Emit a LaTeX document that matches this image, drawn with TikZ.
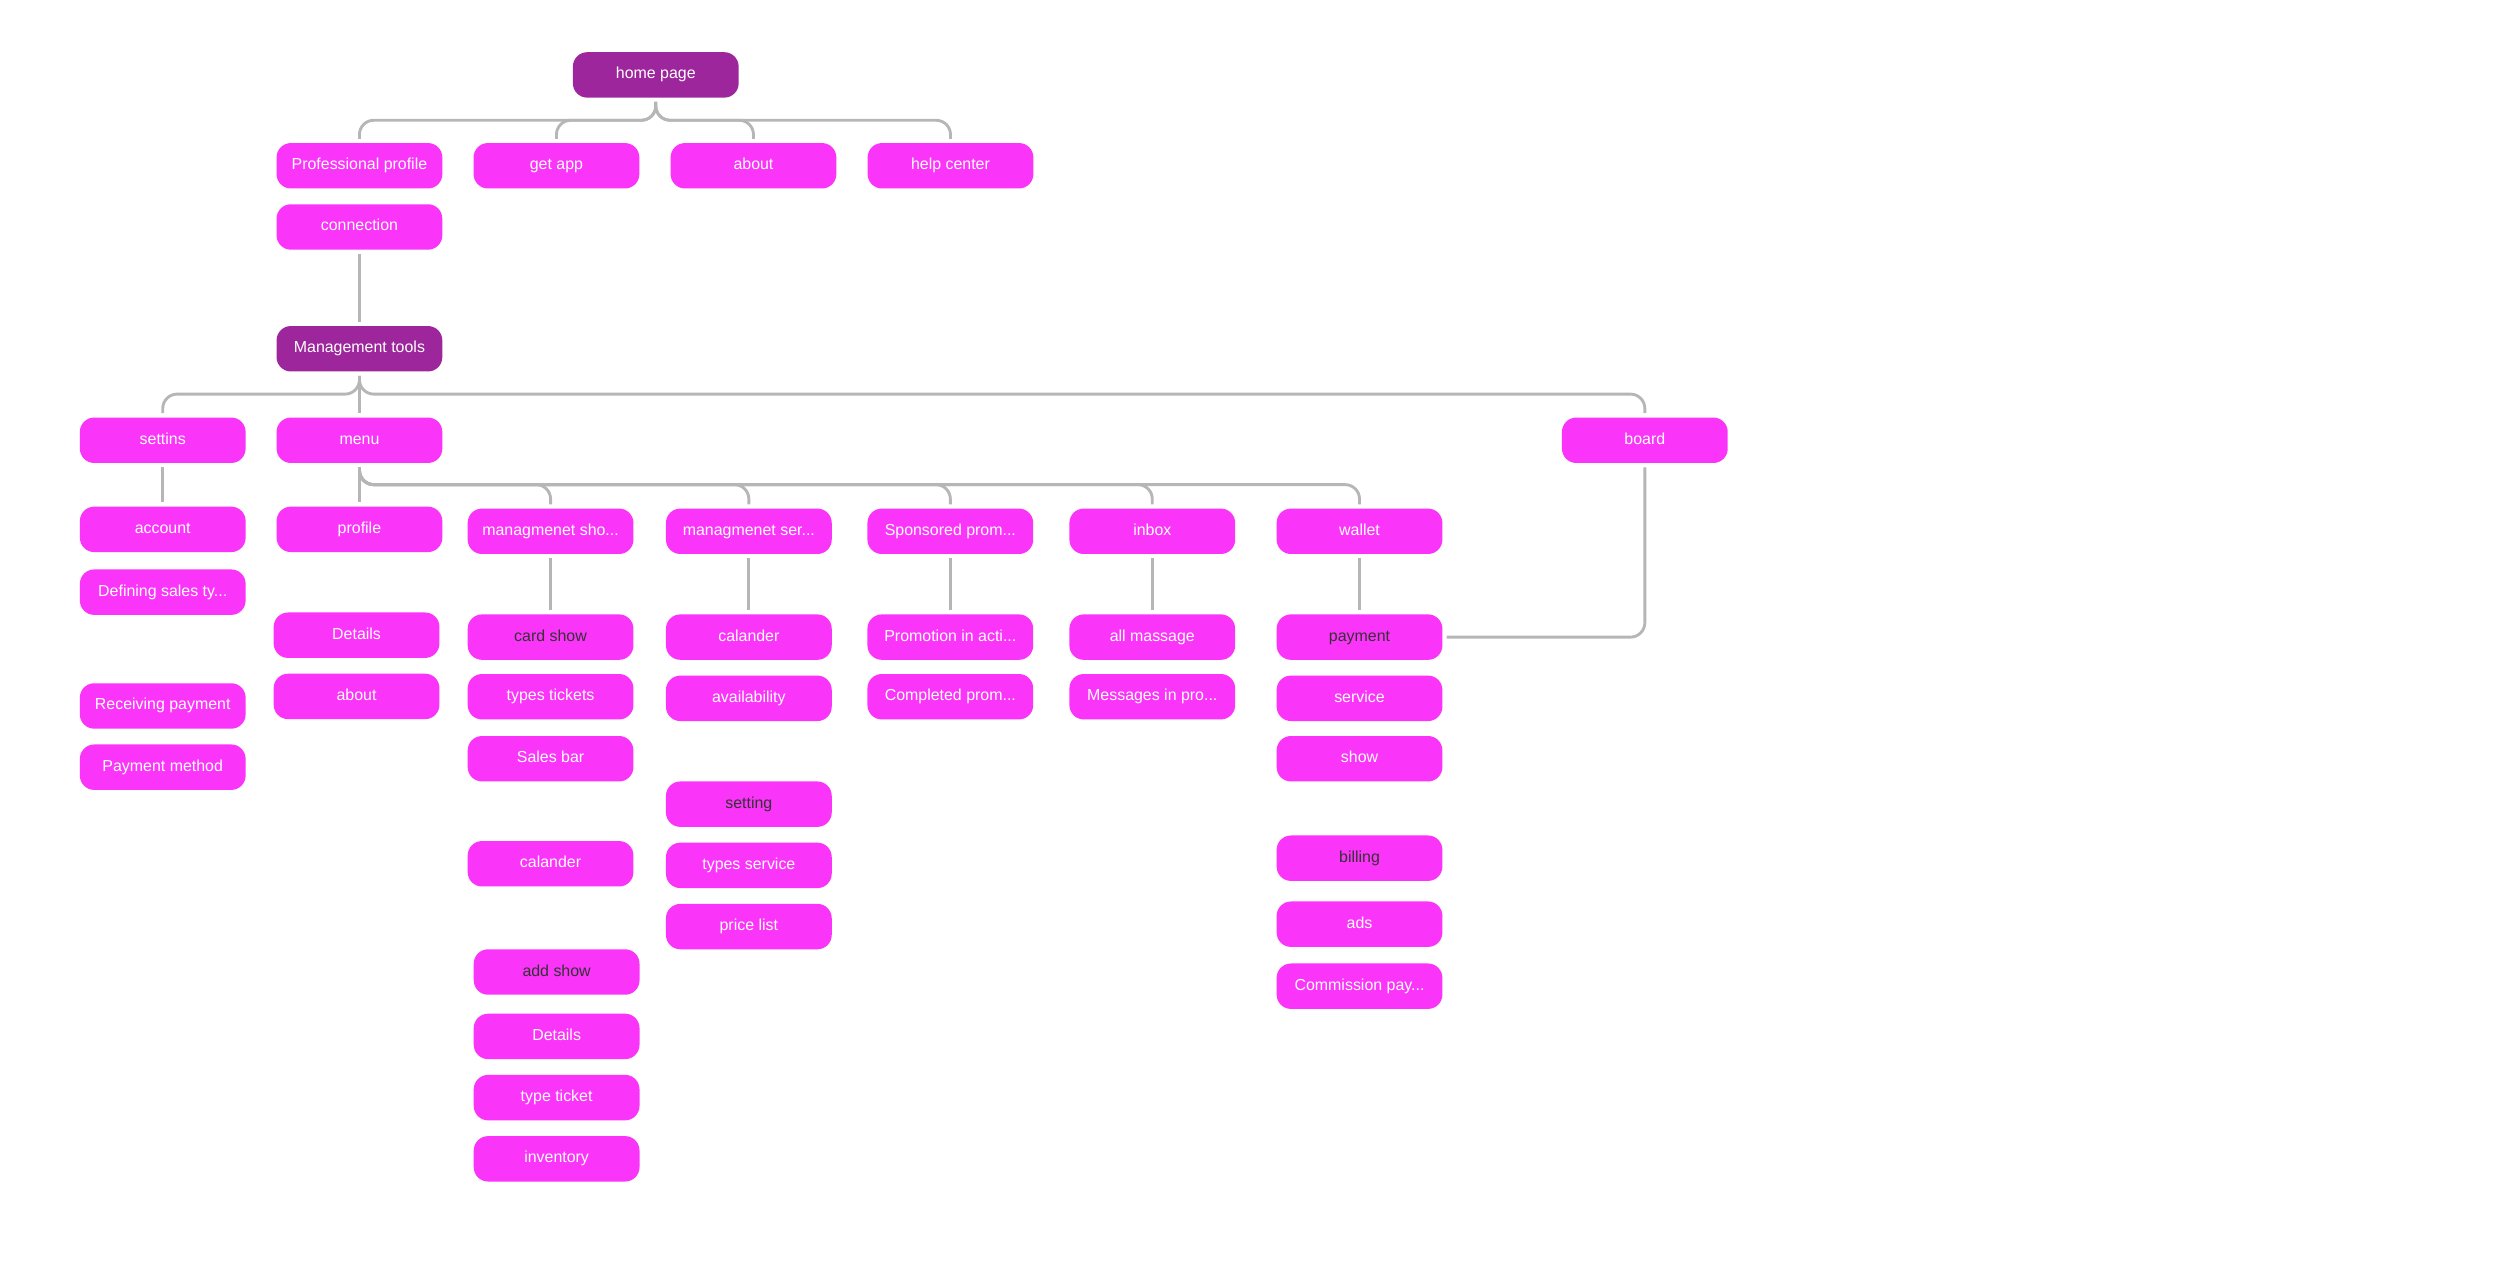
\documentclass[tikz,border=0pt]{standalone}
\usepackage{fontspec}
\setmainfont{Liberation Sans}
\usetikzlibrary{positioning}
\definecolor{pinkbox}{RGB}{251,52,249}
\definecolor{plumbox}{RGB}{158,38,156}
\definecolor{linkgray}{RGB}{182,182,182}
\definecolor{darktxt}{RGB}{51,51,51}

\begin{document}
\begin{tikzpicture}[x=1pt, y=1pt,
	box/.style={rectangle, rounded corners=9pt, fill=pinkbox, text=white, minimum width=104pt, minimum height=28.5pt, inner sep=2pt, text height=7pt, text depth=2pt, font=\fontsize{10}{12}\selectfont},
	topbox/.style={box, fill=plumbox},
	dark/.style={text=darktxt},
	link/.style={draw=linkgray, line width=1.8pt, rounded corners=9pt, shorten <=2.5pt, shorten >=2.5pt}]
	\useasboundingbox (0,0) rectangle (1568.4,-791.1);
	% top level
	\node[topbox] (home) at (411.4,-47) {home page};
	\node[box] (profprofile) at (225.5,-104) {Professional profile};
	\node[box, right=19.2pt of profprofile] (getapp) {get app};
	\node[box, right=19.2pt of getapp] (about) {about};
	\node[box, right=19.2pt of about] (helpcenter) {help center};
	\node[box, below=9.5pt of profprofile] (connection) {connection};
	\node[topbox, below=47.5pt of connection] (mgmt) {Management tools};
	% management tools
	\node[box, below=28.5pt of mgmt] (menu) {menu};
	\node[box, left=19pt of menu] (settins) {settins};
	\node[box, right=702pt of menu] (board) {board};
	\node[box, below=27pt of settins] (account) {account};
	\node[box, below=10.5pt of account] (defsales) {Defining sales ty...};
	\node[box, below=42.5pt of defsales] (recvpay) {Receiving payment};
	\node[box, below=9.5pt of recvpay] (paymethod) {Payment method};
	% menu
	\node[box, below=27pt of menu] (profile) {profile};
	\node[box, below=37.5pt of profile, xshift=-1.8pt] (profdetails) {Details};
	\node[box, below=9.5pt of profdetails] (profabout) {about};
	\node[box, right=15.5pt of profile, yshift=-1.2pt] (mshow) {managmenet sho...};
	\node[box, right=20pt of mshow] (mservice) {managmenet ser...};
	\node[box, right=22pt of mservice] (sponsored) {Sponsored prom...};
	\node[box, right=22.3pt of sponsored] (inbox) {inbox};
	\node[box, right=25.6pt of inbox] (wallet) {wallet};
	% managmenet show
	\node[box, dark, below=37.5pt of mshow] (cardshow) {card show};
	\node[box, below=8.5pt of cardshow] (typestickets) {types tickets};
	\node[box, below=10pt of typestickets] (salesbar) {Sales bar};
	\node[box, below=37pt of salesbar] (showcal) {calander};
	\node[box, dark, below=39pt of showcal, xshift=3.8pt] (addshow) {add show};
	\node[box, below=11.5pt of addshow] (showdetails) {Details};
	\node[box, below=9.5pt of showdetails] (typeticket) {type ticket};
	\node[box, below=9.5pt of typeticket] (inventory) {inventory};
	% managmenet service
	\node[box, below=37.5pt of mservice] (servcal) {calander};
	\node[box, below=9.5pt of servcal] (availability) {availability};
	\node[box, dark, below=37.5pt of availability] (setting) {setting};
	\node[box, below=9.5pt of setting] (typesservice) {types service};
	\node[box, below=9.5pt of typesservice] (pricelist) {price list};
	% sponsored, inbox
	\node[box, below=37.5pt of sponsored] (promoactive) {Promotion in acti...};
	\node[box, below=8.5pt of promoactive] (promodone) {Completed prom...};
	\node[box, below=37.5pt of inbox] (allmassage) {all massage};
	\node[box, below=8.5pt of allmassage] (msgprogress) {Messages in pro...};
	% wallet
	\node[box, dark, below=37.5pt of wallet] (payment) {payment};
	\node[box, below=9.5pt of payment] (service) {service};
	\node[box, below=9pt of service] (show) {show};
	\node[box, dark, below=33.5pt of show] (billing) {billing};
	\node[box, below=12.5pt of billing] (ads) {ads};
	\node[box, below=10pt of ads] (commission) {Commission pay...};
	% links
	\draw[link] (home.south) -- ++(0,-14) -| (profprofile.north);
	\draw[link] (home.south) -- ++(0,-14) -| (getapp.north);
	\draw[link] (home.south) -- ++(0,-14) -| (about.north);
	\draw[link] (home.south) -- ++(0,-14) -| (helpcenter.north);
	\draw[link] (connection) -- (mgmt);
	\draw[link] (mgmt.south) -- ++(0,-14) -| (settins.north);
	\draw[link] (mgmt) -- (menu);
	\draw[link] (mgmt.south) -- ++(0,-14) -| (board.north);
	\draw[link] (settins) -- (account);
	\draw[link] (menu) -- (profile);
	\draw[link] (menu.south) -- ++(0,-13.4) -| (mshow.north);
	\draw[link] (menu.south) -- ++(0,-13.4) -| (mservice.north);
	\draw[link] (menu.south) -- ++(0,-13.4) -| (sponsored.north);
	\draw[link] (menu.south) -- ++(0,-13.4) -| (inbox.north);
	\draw[link] (menu.south) -- ++(0,-13.4) -| (wallet.north);
	\draw[link] (mshow) -- (cardshow);
	\draw[link] (mservice) -- (servcal);
	\draw[link] (sponsored) -- (promoactive);
	\draw[link] (inbox) -- (allmassage);
	\draw[link] (wallet) -- (payment);
	\draw[link] (board.south) |- (payment.east);
\end{tikzpicture}
\end{document}
